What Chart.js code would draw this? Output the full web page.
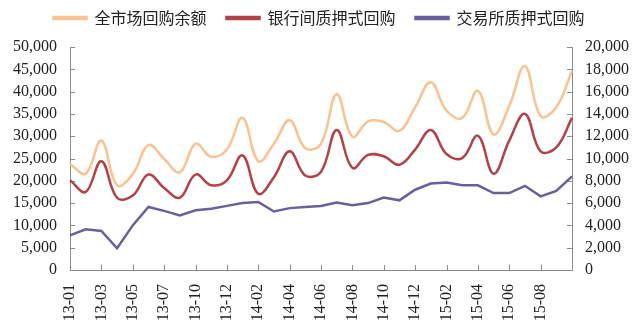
<!DOCTYPE html>
<html>
<head>
<meta charset="utf-8">
<script src="https://cdn.jsdelivr.net/npm/chart.js@4"></script>
<style>
  html, body { margin: 0; padding: 0; background: #fff; }
  #wrap { width: 640px; height: 332px; }
</style>
</head>
<body>
<div id="wrap"><canvas id="repoChart"></canvas></div>
<script>
// months (13-09 is not in the source series)
const months = ['13-01', '13-02', '13-03', '13-04', '13-05', '13-06', '13-07', '13-08', '13-10', '13-11', '13-12',
    '14-01', '14-02', '14-03', '14-04', '14-05', '14-06', '14-07', '14-08', '14-09', '14-10', '14-11', '14-12',
    '15-01', '15-02', '15-03', '15-04', '15-05', '15-06', '15-07', '15-08', '15-09', '15-10'];

// 全市场回购余额 (left axis)
const totalRepo = [23800, 21600, 29000, 19000, 21500, 28000, 24900, 21900, 28300, 25400, 27000,
    34100, 24400, 28300, 33600, 27300, 28300, 39400, 29900, 33300, 33200, 31200, 36500,
    42100, 35700, 34100, 40200, 30400, 36800, 45700, 34500, 36500, 44600];

// 银行间质押式回购 (left axis)
const interbankRepo = [20100, 17500, 24400, 16200, 16700, 21400, 18400, 16200, 21400, 19000, 20100,
    25700, 17100, 20800, 26600, 21200, 22000, 31400, 22900, 25800, 25500, 23600, 27000,
    31400, 26000, 25100, 30100, 21600, 29000, 35000, 26600, 27500, 34100];

// 交易所质押式回购 (right axis)
const exchangeRepo = [3100, 3650, 3500, 1950, 4000, 5650, 5300, 4900, 5350, 5500, 5750,
    6000, 6100, 5250, 5550, 5650, 5750, 6050, 5800, 6000, 6500, 6250, 7200,
    7750, 7850, 7600, 7600, 6900, 6900, 7550, 6600, 7100, 8400];

const axisColor = '#8c8c8c';
const numFont = { family: "'Liberation Serif', 'Times New Roman', serif", size: 16 };

// short tick marks drawn on the inner side of each axis
const innerTicks = {
    id: 'innerTicks',
    beforeDatasetsDraw(chart) {
        const { ctx, chartArea, scales } = chart;
        ctx.save();
        ctx.strokeStyle = axisColor;
        ctx.lineWidth = 1;
        ctx.beginPath();
        scales.y.ticks.forEach(t => {
            const py = Math.round(scales.y.getPixelForValue(t.value)) + 0.5;
            ctx.moveTo(chartArea.left, py);
            ctx.lineTo(chartArea.left + 5, py);
        });
        scales.y1.ticks.forEach(t => {
            const py = Math.round(scales.y1.getPixelForValue(t.value)) + 0.5;
            ctx.moveTo(chartArea.right - 5, py);
            ctx.lineTo(chartArea.right, py);
        });
        for (let i = 0; i < months.length; i += 2) {
            const px = Math.round(scales.x.getPixelForValue(i)) + 0.5;
            ctx.moveTo(px, chartArea.bottom);
            ctx.lineTo(px, chartArea.bottom - 5);
        }
        ctx.stroke();
        ctx.restore();
    }
};

// leave some room between the legend and the plot
const legendGap = {
    id: 'legendGap',
    beforeInit(chart) {
        const legend = chart.legend;
        if (!legend || legend._gapPatched) return;
        const fit = legend.fit;
        legend.fit = function () {
            fit.call(this);
            this.height += 11;
        };
        legend._gapPatched = true;
    }
};

const noGrid = { display: false, drawTicks: false, tickLength: 0 };

const ctx = document.getElementById('repoChart').getContext('2d');

new Chart(ctx, {
    type: 'line',
    data: {
        labels: months,
        datasets: [{
            label: '全市场回购余额',
            data: totalRepo,
            borderColor: 'rgb(248, 194, 146)',
            backgroundColor: 'rgb(248, 194, 146)',
            borderWidth: 2.5,
            tension: 0.4,
            pointRadius: 0,
            yAxisID: 'y'
        }, {
            label: '银行间质押式回购',
            data: interbankRepo,
            borderColor: 'rgb(178, 66, 72)',
            backgroundColor: 'rgb(178, 66, 72)',
            borderWidth: 2.5,
            tension: 0.4,
            pointRadius: 0,
            yAxisID: 'y'
        }, {
            label: '交易所质押式回购',
            data: exchangeRepo,
            borderColor: 'rgb(104, 96, 158)',
            backgroundColor: 'rgb(104, 96, 158)',
            borderWidth: 2.5,
            tension: 0,
            pointRadius: 0,
            yAxisID: 'y1'
        }]
    },
    options: {
        responsive: true,
        maintainAspectRatio: false,
        animation: false,
        layout: { padding: { left: 8, right: 10, top: -10, bottom: 0 } },
        plugins: {
            tooltip: { enabled: false },
            legend: {
                position: 'top',
                labels: {
                    boxWidth: 33,
                    boxHeight: 2,
                    padding: 20,
                    color: '#222',
                    font: { family: "'Noto Sans CJK SC', sans-serif", size: 16 }
                }
            }
        },
        scales: {
            x: {
                offset: false,
                grid: noGrid,
                border: { display: true, color: axisColor },
                afterFit: (scale) => { scale.height = 62; },
                ticks: {
                    autoSkip: false,
                    minRotation: 90,
                    maxRotation: 90,
                    padding: 14,
                    color: '#222',
                    font: numFont,
                    callback: (v, i) => (i % 2 === 0 && i <= 30) ? months[i] : null
                }
            },
            y: {
                position: 'left',
                min: 0,
                max: 50000,
                grid: noGrid,
                border: { display: true, color: axisColor },
                afterFit: (scale) => { scale.width = 62; },
                ticks: { stepSize: 5000, autoSkip: false, padding: 13, color: '#222', font: numFont }
            },
            y1: {
                position: 'right',
                min: 0,
                max: 20000,
                grid: noGrid,
                border: { display: true, color: axisColor },
                afterFit: (scale) => { scale.width = 58; },
                ticks: { stepSize: 2000, autoSkip: false, padding: 13, color: '#222', font: numFont }
            }
        }
    },
    plugins: [legendGap, innerTicks]
});
</script>
</body>
</html>
